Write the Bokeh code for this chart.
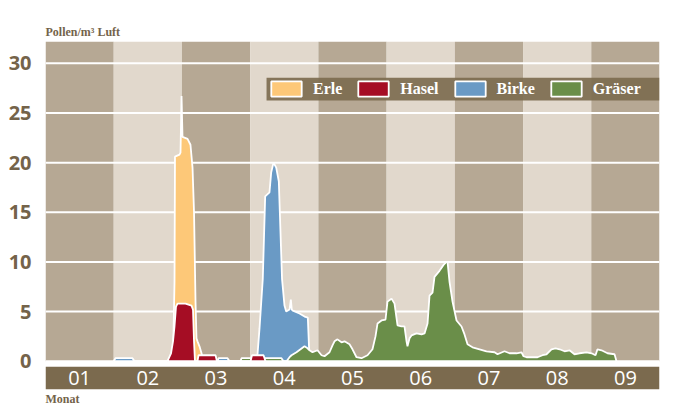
from bokeh.plotting import figure
from bokeh.models import FixedTicker, Legend, LegendItem, BoxAnnotation, Title
from bokeh.core.properties import value
from bokeh.embed import file_html
from bokeh.resources import INLINE

# ---- data ----
months = ["01", "02", "03", "04", "05", "06", "07", "08", "09"]
y_ticks = [0, 5, 10, 15, 20, 25, 30]

# time in months (0 = start of January, 9 = end of September)
erle_t = [1.869, 1.891, 1.898, 1.964, 1.979, 1.994, 2.008, 2.082, 2.125, 2.155,
          2.177, 2.199, 2.213, 2.228, 2.257, 2.287, 2.309]
erle_v = [0, 8, 20.6, 20.8, 21.0, 26.7, 22.6, 22.4, 21.8, 19.5,
          15, 6, 2.3, 2.0, 1.5, 0.8, 0]

hasel_t = [1.788, 1.840, 1.869, 1.891, 1.913, 1.935, 2.052, 2.140, 2.162, 2.177, 2.191,
           2.228, 2.243, 2.492, 2.514,
           3.005, 3.027, 3.196, 3.225]
hasel_v = [0, 0.8, 2.0, 3.5, 5.5, 5.8, 5.8, 5.6, 5.2, 2.0, 0,
           0, 0.6, 0.6, 0,
           0, 0.6, 0.6, 0]

birke_t = [0.997, 1.026, 1.275, 1.305,
           2.521, 2.536, 2.668, 2.697,
           3.100, 3.137, 3.185, 3.220, 3.283, 3.308, 3.342, 3.382, 3.420, 3.467,
           3.503, 3.528, 3.577, 3.596, 3.610, 3.625, 3.723, 3.797, 3.845, 3.862, 3.877]
birke_v = [0, 0.3, 0.3, 0,
           0, 0.3, 0.3, 0,
           0, 3.3, 8.3, 16.6, 17.0, 19.0, 20.0, 19.5, 18.1, 8.3,
           5.6, 5.0, 5.2, 6.2, 5.2, 5.1, 4.8, 4.5, 4.4, 1.5, 0]

gras_t = [2.858, 2.873, 3.459, 3.489,
          3.533, 3.577, 3.606, 3.679, 3.738, 3.797, 3.841, 3.870, 3.914, 3.987,
          4.046, 4.090, 4.163, 4.207, 4.236, 4.280, 4.339, 4.383, 4.456, 4.500,
          4.559, 4.632, 4.720, 4.793, 4.837, 4.867, 4.925, 4.984, 5.013, 5.072,
          5.116, 5.160, 5.218, 5.262, 5.292, 5.306, 5.336, 5.365, 5.438, 5.512,
          5.556, 5.600, 5.629, 5.673, 5.702, 5.775, 5.834, 5.878, 5.893, 5.922,
          5.966, 6.025, 6.098, 6.142, 6.186, 6.259, 6.362, 6.464, 6.582, 6.626,
          6.728, 6.802, 6.904, 6.977, 7.007, 7.051, 7.212, 7.285, 7.344, 7.417,
          7.476, 7.535, 7.608, 7.681, 7.754, 7.828, 7.930, 8.004, 8.062, 8.091,
          8.150, 8.238, 8.341, 8.370]
gras_v = [0, 0.3, 0.3, 0,
          0, 0.4, 0.6, 0.9, 1.2, 1.5, 1.3, 1.1, 0.9, 1.1,
          0.6, 0.5, 0.9, 1.6, 2.0, 2.2, 1.9, 2.0, 1.7, 1.2,
          0.4, 0.3, 0.6, 1.2, 2.5, 3.8, 4.1, 4.2, 6.0, 6.3,
          5.8, 3.6, 3.5, 3.5, 2.0, 1.5, 2.3, 2.6, 2.8, 2.7,
          2.8, 3.8, 6.6, 6.9, 8.5, 9.1, 9.7, 10.0, 10.0, 8.0,
          6.0, 4.1, 3.5, 2.7, 1.7, 1.4, 1.2, 1.0, 0.9, 0.7,
          1.0, 0.8, 0.8, 0.9, 0.5, 0.4, 0.4, 0.6, 0.7, 1.2,
          1.3, 1.2, 1.0, 1.1, 0.7, 0.8, 0.9, 0.8, 0.6, 1.2,
          1.1, 0.8, 0.7, 0]

# ---- styles ----
DARK_COL = "#b6a894"
LIGHT_COL = "#e1d8cc"
BROWN = "#7b6a4e"
TEXT_BROWN = "#74634a"
C_ERLE = "#fdc878"
C_HASEL = "#a50d24"
C_BIRKE = "#6a9ac5"
C_GRAS = "#6a8e49"

Y_TOP = 32.2
Y_BOTTOM = -2.85

p = figure(width=670, height=406, x_range=(0, 9), y_range=(Y_BOTTOM, Y_TOP),
           output_backend="svg", toolbar_location=None,
           min_border_left=45, min_border_right=11, min_border_top=41, min_border_bottom=0,
           background_fill_color="white", border_fill_color="white",
           outline_line_color=None)

idx = list(range(len(months)))
col_colors = [DARK_COL if i % 2 == 0 else LIGHT_COL for i in idx]
p.quad(left=idx, right=[i + 1 for i in idx], bottom=0, top=Y_TOP,
       fill_color=col_colors, line_color=None)

# horizontal gridlines (drawn below the areas)
p.multi_line(xs=[[0, len(months)] for _ in y_ticks], ys=[[t, t] for t in y_ticks],
             line_color="white", line_width=2)

# month band
p.quad(left=0, right=len(months), bottom=Y_BOTTOM, top=-0.55,
       fill_color=BROWN, line_color=None)
p.text(x=[i + 0.5 for i in idx], y=[-1.72] * len(months), text=months,
       text_color="white", text_font=value("Open Sans"), text_font_size="20px",
       text_align="center", text_baseline="middle")

# series areas
lw = 1.8
r_birke = p.patch(birke_t, birke_v, fill_color=C_BIRKE, line_color="white", line_width=lw)
r_erle = p.patch(erle_t, erle_v, fill_color=C_ERLE, line_color="white", line_width=lw)
r_gras = p.patch(gras_t, gras_v, fill_color=C_GRAS, line_color="white", line_width=lw)
r_hasel = p.patch(hasel_t, hasel_v, fill_color=C_HASEL, line_color="white", line_width=lw)

# legend band + legend
band = BoxAnnotation(left=3.24, right=9, bottom=26.25, top=28.55,
                     fill_color=BROWN, fill_alpha=0.9, line_color=None)
p.add_layout(band)

legend = Legend(items=[LegendItem(label="Erle", renderers=[r_erle]),
                       LegendItem(label="Hasel", renderers=[r_hasel]),
                       LegendItem(label="Birke", renderers=[r_birke]),
                       LegendItem(label="Gräser", renderers=[r_gras])],
                orientation="horizontal", location=(222, 291),
                glyph_width=38, glyph_height=19, label_height=19,
                label_standoff=8, spacing=12, padding=2, margin=0,
                background_fill_alpha=0, border_line_color=None,
                label_text_color="white", label_text_font="Liberation Serif",
                label_text_font_style="bold", label_text_font_size="16px")
p.add_layout(legend)

# axes
p.xaxis.visible = False
p.grid.visible = False
p.yaxis.ticker = FixedTicker(ticks=y_ticks)
p.yaxis.axis_line_color = None
p.yaxis.major_tick_line_color = None
p.yaxis.minor_tick_line_color = None
p.yaxis.major_label_standoff = 8
p.yaxis.major_label_text_font = "Open Sans"
p.yaxis.major_label_text_font_style = "bold"
p.yaxis.major_label_text_font_size = "20px"
p.yaxis.major_label_text_color = TEXT_BROWN

p.add_layout(Title(text="Pollen/m³ Luft", align="left", text_font="Liberation Serif",
                   text_font_style="bold", text_font_size="12px",
                   text_color=TEXT_BROWN, standoff=6), "above")
p.add_layout(Title(text="Monat", align="left", text_font="Liberation Serif",
                   text_font_style="bold", text_font_size="12px",
                   text_color=TEXT_BROWN, standoff=1), "below")

open("out.html", "w").write(file_html(p, INLINE))
